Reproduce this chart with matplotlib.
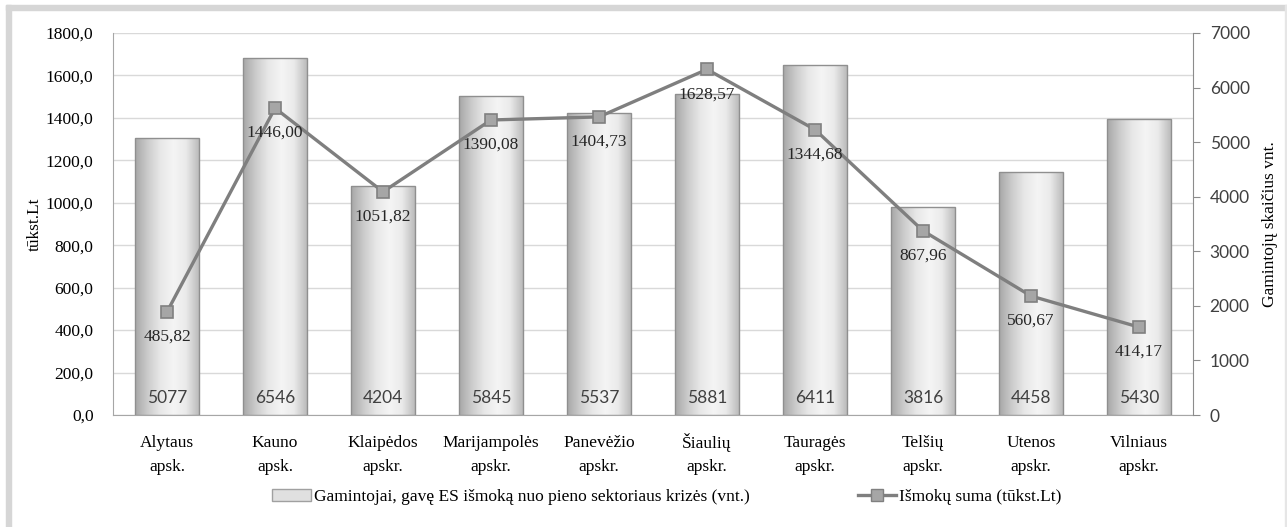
import matplotlib
matplotlib.use("Agg")
import matplotlib.pyplot as plt
import numpy as np
from matplotlib.patches import Rectangle, Patch
from matplotlib.lines import Line2D

# data
regions = ["Alytaus\napsk.", "Kauno\napsk.", "Klaipėdos\napskr.", "Marijampolės\napskr.",
           "Panevėžio\napskr.", "Šiaulių\napskr.", "Tauragės\napskr.", "Telšių\napskr.",
           "Utenos\napskr.", "Vilniaus\napskr."]
producers = [5077, 6546, 4204, 5845, 5537, 5881, 6411, 3816, 4458, 5430]
payments = [485.82, 1446.00, 1051.82, 1390.08, 1404.73, 1628.57, 1344.68, 867.96, 560.67, 414.17]
bar_name = "Gamintojai, gavę ES išmoką nuo pieno sektoriaus krizės (vnt.)"
line_name = "Išmokų suma (tūkst.Lt)"

serif = "Liberation Serif"
sans = "Lato"
fs = 12.5
W, H = 1287, 527

fig = plt.figure(figsize=(W / 100, H / 100), dpi=100)
fig.patch.set_facecolor("white")

# outer frame like the pasted excel chart
fr = "#d6d6d6"
fig.patches.append(Rectangle((6 / W, 0), 5 / W, 1 - 5 / H, transform=fig.transFigure, color=fr, zorder=0))
fig.patches.append(Rectangle((6 / W, 1 - 10 / H), 1 - 6 / W, 5 / H, transform=fig.transFigure, color=fr, zorder=0))
fig.patches.append(Rectangle((1285 / W, 0), 2 / W, 1 - 5 / H, transform=fig.transFigure, color="#e6e6e6", zorder=0))

pos = [113 / W, 1 - 415 / H, (1193 - 113) / W, (415 - 33) / H]
ax1 = fig.add_axes(pos)
ax2 = ax1.twinx()
ax3 = ax1.twinx()
ax1.set_zorder(1)
ax2.set_zorder(2)
ax3.set_zorder(3)
for a in (ax2, ax3):
    a.patch.set_visible(False)

x = np.arange(len(regions))
ax1.set_ylim(0, 1800)
ax2.set_ylim(0, 7000)
ax3.set_ylim(0, 1800)

# left axis
ax1.set_yticks(np.arange(0, 1801, 200))
ax1.set_yticklabels([f"{v:.1f}".replace(".", ",") for v in np.arange(0, 1801, 200)],
                    fontfamily=serif, fontsize=fs)
ax1.yaxis.grid(True, color="#d9d9d9", lw=1)
ax1.set_axisbelow(True)
ax1.tick_params(axis="y", length=0, pad=14)
ax1.set_xticks(x)
ax1.set_xticklabels([])
ax1.tick_params(axis="x", length=0)
ax1.set_ylabel("tūkst.Lt", fontfamily=serif, fontsize=fs, labelpad=2)
for s in ["top", "right"]:
    ax1.spines[s].set_visible(False)
for s in ["left", "bottom"]:
    ax1.spines[s].set_color("#a6a6a6")

# category labels, one text per line so accents do not shift the rows
for xi, lab in zip(x, regions):
    l1, l2 = lab.split("\n")
    ax1.annotate(l1, (xi, 0), xycoords=("data", "axes fraction"), xytext=(0, -28), textcoords="offset pixels",
                 ha="center", va="center", fontfamily=serif, fontsize=fs)
    ax1.annotate(l2, (xi, 0), xycoords=("data", "axes fraction"), xytext=(0, -52), textcoords="offset pixels",
                 ha="center", va="center", fontfamily=serif, fontsize=fs)

# right axis
ax2.set_yticks(np.arange(0, 7001, 1000))
ax2.set_yticklabels([str(v) for v in range(0, 7001, 1000)], fontfamily=sans, fontsize=fs, color="#404040")
ax2.tick_params(axis="y", length=5, color="#8c8c8c", pad=7)
ax2.set_ylabel("Gamintojų skaičius vnt.", fontfamily=serif, fontsize=fs, labelpad=9)
for s in ["top", "left", "bottom"]:
    ax2.spines[s].set_visible(False)
ax2.spines["right"].set_color("#8c8c8c")

ax3.axis("off")

# bars with horizontal gradient
grad_cols = np.array([[0.66, 0.66, 0.66], [0.80, 0.80, 0.80], [0.91, 0.91, 0.91],
                      [0.96, 0.96, 0.96], [0.92, 0.92, 0.92], [0.74, 0.74, 0.74]])
stops = np.linspace(0, 1, len(grad_cols))
t = np.linspace(0, 1, 64)
grad = np.stack([np.interp(t, stops, grad_cols[:, k]) for k in range(3)], axis=-1)[None, :, :]

bw = 0.59
bars = ax2.bar(x, producers, width=bw, color="none", edgecolor="#8f8f8f", lw=1, zorder=2)
for b in bars:
    x0, w, h = b.get_x(), b.get_width(), b.get_height()
    im = ax2.imshow(grad, extent=[x0, x0 + w, 0, h], aspect="auto", zorder=1, interpolation="bilinear")
    im.set_clip_path(b)
for a in (ax1, ax2, ax3):
    a.set_xlim(-0.5, len(regions) - 0.5)

for xi, v in zip(x, producers):
    ax2.annotate(str(v), (xi, 0), xytext=(0, 17), textcoords="offset pixels", ha="center", va="center",
                 fontfamily=sans, fontsize=fs, color="#404040", zorder=3)

# line
ax3.plot(x, payments, color="#7f7f7f", lw=2.4, marker="s", ms=8, mfc="#a6a6a6", mec="#808080", mew=1.2,
         zorder=5)
for xi, v in zip(x, payments):
    ax3.annotate(f"{v:.2f}".replace(".", ","), (xi, v), xytext=(0, -25), textcoords="offset pixels",
                 ha="center", va="center", fontfamily=serif, fontsize=fs, color="#262626", zorder=6)

# legend
handles = [Patch(facecolor="#e0e0e0", edgecolor="#a0a0a0", label=bar_name),
           Line2D([0], [0], color="#7f7f7f", lw=2.4, marker="s", ms=8, mfc="#a6a6a6", mec="#808080",
                  label=line_name)]
fig.legend(handles=handles, loc="center", bbox_to_anchor=(667 / W, 1 - 497 / H), ncol=2, frameon=False,
           prop={"family": serif, "size": fs}, columnspacing=6.2, handlelength=2.2, handletextpad=0.2)

fig.savefig("out.png", dpi=100)
